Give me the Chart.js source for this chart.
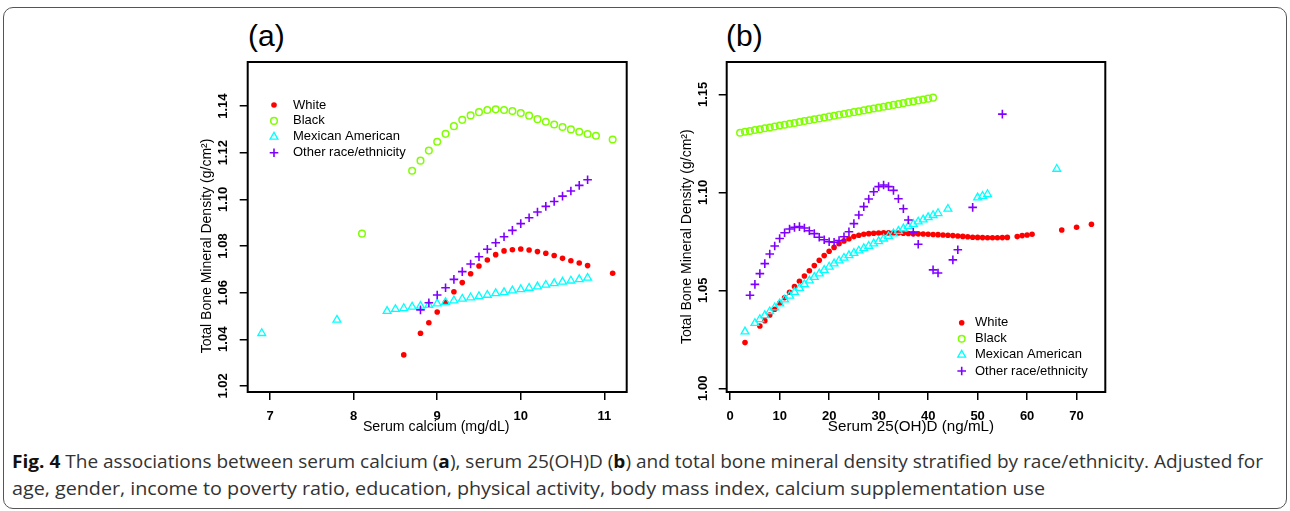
<!DOCTYPE html>
<html><head><meta charset="utf-8">
<script src="https://cdn.jsdelivr.net/npm/chart.js@4.4.1/dist/chart.umd.min.js"></script>
<style>
html,body{margin:0;padding:0;background:#fff;}
body{width:1290px;height:511px;overflow:hidden;position:relative;}
#frame{position:absolute;left:3px;top:7px;width:1284px;height:502px;border:1px solid #555;border-radius:10px;box-sizing:border-box;}
.plab{position:absolute;font-family:"Liberation Sans",Arial,sans-serif;font-size:30px;line-height:30px;color:#000;}
canvas{position:absolute;}
.cap{position:absolute;left:12px;font-family:"Open Sans",sans-serif;font-size:17.5px;line-height:27px;color:#333;white-space:nowrap;transform-origin:0 0;}
.cap b{color:#111;font-weight:700;}
</style></head>
<body>
<div id="frame"></div>
<div class="plab" style="left:248px;top:21px">(a)</div>
<div class="plab" style="left:726px;top:21px">(b)</div>
<canvas id="ca" width="460" height="390" style="left:180px;top:55px"></canvas>
<canvas id="cb" width="460" height="390" style="left:660px;top:55px"></canvas>
<div class="cap" id="cap1" style="top:448px"><b>Fig. 4</b> The associations between serum calcium (<b>a</b>), serum 25(OH)D (<b>b</b>) and total bone mineral density stratified by race/ethnicity. Adjusted for</div>
<div class="cap" id="cap2" style="top:475px">age, gender, income to poverty ratio, education, physical activity, body mass index, calcium supplementation use</div>
<script>
// ---------- DATA ----------
const groups = ['White', 'Black', 'Mexican American', 'Other race/ethnicity'];

// Panel (a): serum calcium (mg/dL)
const caWhiteX = [8.6, 8.8, 8.9, 9.0, 9.1, 9.2, 9.3, 9.4, 9.5, 9.6, 9.7, 9.8, 9.9, 10.0, 10.1, 10.2, 10.3, 10.4, 10.5, 10.6, 10.7, 10.8, 11.1];
const caWhiteY = [1.0333, 1.0426, 1.0471, 1.0517, 1.0559, 1.0604, 1.0643, 1.0681, 1.0714, 1.0740, 1.0763, 1.0779, 1.0784, 1.0787, 1.0783, 1.0776, 1.0769, 1.0759, 1.0747, 1.0737, 1.0727, 1.0716, 1.0683];
const caBlackX = [8.1, 8.7, 8.8, 8.9, 9.0, 9.1, 9.2, 9.3, 9.4, 9.5, 9.6, 9.7, 9.8, 9.9, 10.0, 10.1, 10.2, 10.3, 10.4, 10.5, 10.6, 10.7, 10.8, 10.9, 11.1];
const caBlackY = [1.0853, 1.1123, 1.1166, 1.1209, 1.1247, 1.1281, 1.1314, 1.1341, 1.1360, 1.1374, 1.1383, 1.1386, 1.1383, 1.1379, 1.1370, 1.1359, 1.1344, 1.1333, 1.1321, 1.1310, 1.1300, 1.1290, 1.1280, 1.1273, 1.1257];
const caMexX = [6.9, 7.8, 8.4, 8.5, 8.6, 8.7, 8.8, 8.9, 9.0, 9.1, 9.2, 9.3, 9.4, 9.5, 9.6, 9.7, 9.8, 9.9, 10.0, 10.1, 10.2, 10.3, 10.4, 10.5, 10.6, 10.7, 10.8];
const caMexY = [1.0426, 1.0483, 1.0521, 1.0529, 1.0533, 1.0539, 1.0543, 1.0547, 1.0553, 1.0559, 1.0566, 1.0573, 1.0579, 1.0584, 1.0590, 1.0597, 1.0601, 1.0609, 1.0614, 1.0620, 1.0626, 1.0633, 1.0640, 1.0646, 1.0651, 1.0657, 1.0663];
const caOtherX = [8.8, 8.9, 9.0, 9.1, 9.2, 9.3, 9.4, 9.5, 9.6, 9.7, 9.8, 9.9, 10.0, 10.1, 10.2, 10.3, 10.4, 10.5, 10.6, 10.7, 10.8];
const caOtherY = [1.0526, 1.0557, 1.0590, 1.0621, 1.0657, 1.0690, 1.0723, 1.0754, 1.0786, 1.0814, 1.0840, 1.0867, 1.0896, 1.0921, 1.0946, 1.0970, 1.0991, 1.1014, 1.1036, 1.1060, 1.1084];
const caXTicks = [7, 8, 9, 10, 11];
const caYTicks = [1.02, 1.04, 1.06, 1.08, 1.10, 1.12, 1.14];

// Panel (b): serum 25(OH)D (ng/mL)
const vdWhiteX = [3, 6, 7, 8, 9, 10, 11, 12, 13, 14, 15, 16, 17, 18, 19, 20, 21, 22, 23, 24, 25, 26, 27, 28, 29, 30, 31, 32, 33, 34, 35, 36, 37, 38, 39, 40, 41, 42, 43, 44, 45, 46, 47, 48, 49, 50, 51, 52, 53, 54, 55, 56, 58, 59, 60, 61, 67, 70, 73];
const vdWhiteY = [1.0233, 1.0318, 1.0345, 1.0374, 1.0403, 1.0434, 1.0462, 1.0490, 1.0519, 1.0546, 1.0573, 1.0600, 1.0626, 1.0653, 1.0677, 1.0699, 1.0719, 1.0738, 1.0752, 1.0763, 1.0774, 1.0781, 1.0786, 1.0789, 1.0791, 1.0792, 1.0793, 1.0793, 1.0793, 1.0792, 1.0791, 1.0790, 1.0789, 1.0788, 1.0787, 1.0786, 1.0785, 1.0784, 1.0782, 1.0781, 1.0779, 1.0777, 1.0775, 1.0773, 1.0771, 1.0770, 1.0769, 1.0768, 1.0768, 1.0768, 1.0769, 1.0770, 1.0774, 1.0779, 1.0782, 1.0786, 1.0808, 1.0822, 1.0837];
const vdBlackX = [2, 3, 4, 5, 6, 7, 8, 9, 10, 11, 12, 13, 14, 15, 16, 17, 18, 19, 20, 21, 22, 23, 24, 25, 26, 27, 28, 29, 30, 31, 32, 33, 34, 35, 36, 37, 38, 39, 40, 41];
const vdBlackY = [1.1304, 1.1309, 1.1313, 1.1318, 1.1322, 1.1327, 1.1331, 1.1336, 1.1341, 1.1345, 1.1350, 1.1354, 1.1359, 1.1364, 1.1368, 1.1373, 1.1377, 1.1382, 1.1386, 1.1391, 1.1396, 1.1400, 1.1405, 1.1409, 1.1414, 1.1418, 1.1423, 1.1428, 1.1432, 1.1437, 1.1441, 1.1446, 1.1450, 1.1455, 1.1460, 1.1464, 1.1469, 1.1473, 1.1478, 1.1483];
const vdMexX = [3, 5, 6, 7, 8, 9, 10, 11, 12, 13, 14, 15, 16, 17, 18, 19, 20, 21, 22, 23, 24, 25, 26, 27, 28, 29, 30, 31, 32, 33, 34, 35, 36, 37, 38, 39, 40, 41, 42, 44, 50, 51, 52, 66];
const vdMexY = [1.0289, 1.0332, 1.0352, 1.0372, 1.0392, 1.0412, 1.0432, 1.0452, 1.0472, 1.0491, 1.0511, 1.0530, 1.0549, 1.0567, 1.0585, 1.0603, 1.0620, 1.0636, 1.0651, 1.0665, 1.0678, 1.0690, 1.0702, 1.0714, 1.0726, 1.0738, 1.0750, 1.0763, 1.0776, 1.0789, 1.0802, 1.0815, 1.0827, 1.0838, 1.0850, 1.0861, 1.0872, 1.0883, 1.0893, 1.0915, 1.0973, 1.0981, 1.0990, 1.1119];
const vdOtherX = [4, 5, 6, 7, 8, 9, 10, 11, 12, 13, 14, 15, 16, 17, 18, 19, 20, 21, 22, 23, 24, 25, 26, 27, 28, 29, 30, 31, 32, 33, 34, 35, 36, 37, 38, 41, 42, 45, 46, 49, 55];
const vdOtherY = [1.0475, 1.0530, 1.0585, 1.0636, 1.0685, 1.0726, 1.0764, 1.0794, 1.0813, 1.0821, 1.0825, 1.0818, 1.0804, 1.0789, 1.0771, 1.0758, 1.0748, 1.0745, 1.0754, 1.0773, 1.0799, 1.0840, 1.0884, 1.0927, 1.0966, 1.1003, 1.1029, 1.1037, 1.1029, 1.1010, 1.0967, 1.0916, 1.0859, 1.0797, 1.0735, 1.0604, 1.0588, 1.0655, 1.0707, 1.0923, 1.1399];
const vdXTicks = [0, 10, 20, 30, 40, 50, 60, 70];
const vdYTicks = [1.00, 1.05, 1.10, 1.15];

// ---------- RENDERING ----------
const FONT = '"Liberation Sans", Arial, Helvetica, sans-serif';
function pts(xs, ys) { return xs.map((x, i) => ({ x: x, y: ys[i] })); }

const markStyles = [
  { pointStyle: 'circle',   pointRadius: 2.8, pointBackgroundColor: '#ff0000', pointBorderColor: '#ff0000', pointBorderWidth: 0, order: 4 },
  { pointStyle: 'circle',   pointRadius: 3.3, pointBackgroundColor: 'rgba(0,0,0,0)', pointBorderColor: '#80ff00', pointBorderWidth: 1.5, order: 3 },
  { pointStyle: 'triangle', pointRadius: 4.5, pointBackgroundColor: 'rgba(0,0,0,0)', pointBorderColor: '#00ffff', pointBorderWidth: 1.3, order: 2 },
  { pointStyle: 'cross',    pointRadius: 4.3, pointBackgroundColor: 'rgba(0,0,0,0)', pointBorderColor: '#8000ff', pointBorderWidth: 1.6, order: 1 }
];

function makeDatasets(series) {
  return series.map((s, i) => Object.assign({ label: groups[i], data: pts(s[0], s[1]), pointHoverRadius: 0 }, markStyles[i]));
}

const rDecor = {
  id: 'rdecor',
  afterDraw(chart, args, o) {
    const ctx = chart.ctx, ca = chart.chartArea, ys = chart.scales.y, xs = chart.scales.x;
    ctx.save();
    ctx.strokeStyle = '#000'; ctx.lineWidth = 2;
    ctx.strokeRect(ca.left, ca.top, ca.right - ca.left, ca.bottom - ca.top);
    ctx.fillStyle = '#000';
    ctx.textAlign = 'center'; ctx.textBaseline = 'middle';
    ctx.font = 'bold 13px ' + FONT;
    // x tick labels
    xs.ticks.forEach(t => {
      ctx.fillText(String(t.value), xs.getPixelForValue(t.value), o.xTickY);
    });
    // y tick labels (rotated, parallel to axis)
    ys.ticks.forEach(t => {
      const py = ys.getPixelForValue(t.value);
      ctx.save(); ctx.translate(o.tickX, py); ctx.rotate(-Math.PI / 2);
      ctx.fillText(Number(t.value).toFixed(2), 0, 0); ctx.restore();
    });
    // x axis title
    ctx.font = o.xTitleSize + 'px ' + FONT;
    ctx.fillText(o.xTitle, o.xTitleX, o.xTitleY);
    // y axis title
    ctx.font = '14px ' + FONT;
    ctx.save(); ctx.translate(o.titleX, o.titleY); ctx.rotate(-Math.PI / 2);
    ctx.fillText(o.yTitle, 0, 0); ctx.restore();
    // legend
    chart.data.datasets.forEach((ds, i) => {
      const y = o.legY + i * o.legDy;
      ctx.fillStyle = ds.pointBackgroundColor; ctx.strokeStyle = ds.pointBorderColor; ctx.lineWidth = ds.pointBorderWidth;
      const po = { pointStyle: ds.pointStyle, radius: ds.pointRadius, rotation: 0, borderWidth: ds.pointBorderWidth };
      if (Chart.helpers && Chart.helpers.drawPoint) {
        Chart.helpers.drawPoint(ctx, po, o.legSymX, y);
      }
      ctx.fillStyle = '#000'; ctx.font = '13px ' + FONT; ctx.textAlign = 'left'; ctx.textBaseline = 'middle';
      ctx.fillText(ds.label, o.legTextX, y);
    });
    ctx.restore();
  }
};

function makeChart(id, cfg) {
  const tickGrid = { drawOnChartArea: false, drawTicks: true, tickLength: 8, color: '#000', lineWidth: 1.5 };
  return new Chart(document.getElementById(id), {
    type: 'scatter',
    data: { datasets: makeDatasets(cfg.series) },
    options: {
      responsive: false, animation: false, devicePixelRatio: 1,
      events: [],
      layout: { padding: { top: cfg.padTop, right: cfg.padRight, left: 0, bottom: 0 } },
      plugins: {
        legend: { display: false }, tooltip: { enabled: false },
        rdecor: cfg.decor
      },
      scales: {
        x: {
          type: 'linear', min: cfg.xMin, max: cfg.xMax,
          afterBuildTicks: s => { s.ticks = cfg.xTicks.map(v => ({ value: v })); },
          afterFit: s => { s.height = cfg.xAxisH; },
          ticks: { display: false },
          grid: tickGrid, border: { display: false }
        },
        y: {
          type: 'linear', min: cfg.yMin, max: cfg.yMax,
          afterBuildTicks: s => { s.ticks = cfg.yTicks.map(v => ({ value: v })); },
          afterFit: s => { s.width = cfg.yAxisW; },
          ticks: { display: false },
          grid: tickGrid, border: { display: false }
        }
      }
    },
    plugins: [rDecor]
  });
}

makeChart('ca', {
  series: [[caWhiteX, caWhiteY], [caBlackX, caBlackY], [caMexX, caMexY], [caOtherX, caOtherY]],
  xMin: 6.732, xMax: 11.268, yMin: 1.0174, yMax: 1.1589,
  xTicks: caXTicks, yTicks: caYTicks,
  padTop: 7, padRight: 13.3, yAxisW: 67.7, xAxisH: 53,
  decor: { tickX: 43, xTickY: 361.5, xTitle: 'Serum calcium (mg/dL)', xTitleSize: 14.2, xTitleX: 256.2, xTitleY: 372,
           titleX: 26.7, titleY: 191, yTitle: 'Total Bone Mineral Density (g/cm\u00B2)', legSymX: 94, legTextX: 113, legY: 50, legDy: 15.9 }
});

makeChart('cb', {
  series: [[vdWhiteX, vdWhiteY], [vdBlackX, vdBlackY], [vdMexX, vdMexY], [vdOtherX, vdOtherY]],
  xMin: -0.7, xMax: 75.8, yMin: 0.9981, yMax: 1.1665,
  xTicks: vdXTicks, yTicks: vdYTicks,
  padTop: 7, padRight: 14.7, yAxisW: 66.7, xAxisH: 53,
  decor: { tickX: 43.3, xTickY: 361.5, xTitle: 'Serum 25(OH)D (ng/mL)', xTitleSize: 15.2, xTitleX: 251, xTitleY: 372,
           titleX: 26.7, titleY: 181.7, yTitle: 'Total Bone Mineral Density (g/cm\u00B2)', legSymX: 301.7, legTextX: 315, legY: 267.7, legDy: 16.1 }
});

function fitCaption(id, w) {
  const el = document.getElementById(id);
  el.style.transform = 'none';
  const cw = el.getBoundingClientRect().width;
  if (cw > 0) el.style.transform = 'scaleX(' + (w / cw) + ')';
}
function fitAll() { fitCaption('cap1', 1251); fitCaption('cap2', 1033); }
fitAll();
if (document.fonts && document.fonts.ready) document.fonts.ready.then(fitAll);
</script>
</body></html>
